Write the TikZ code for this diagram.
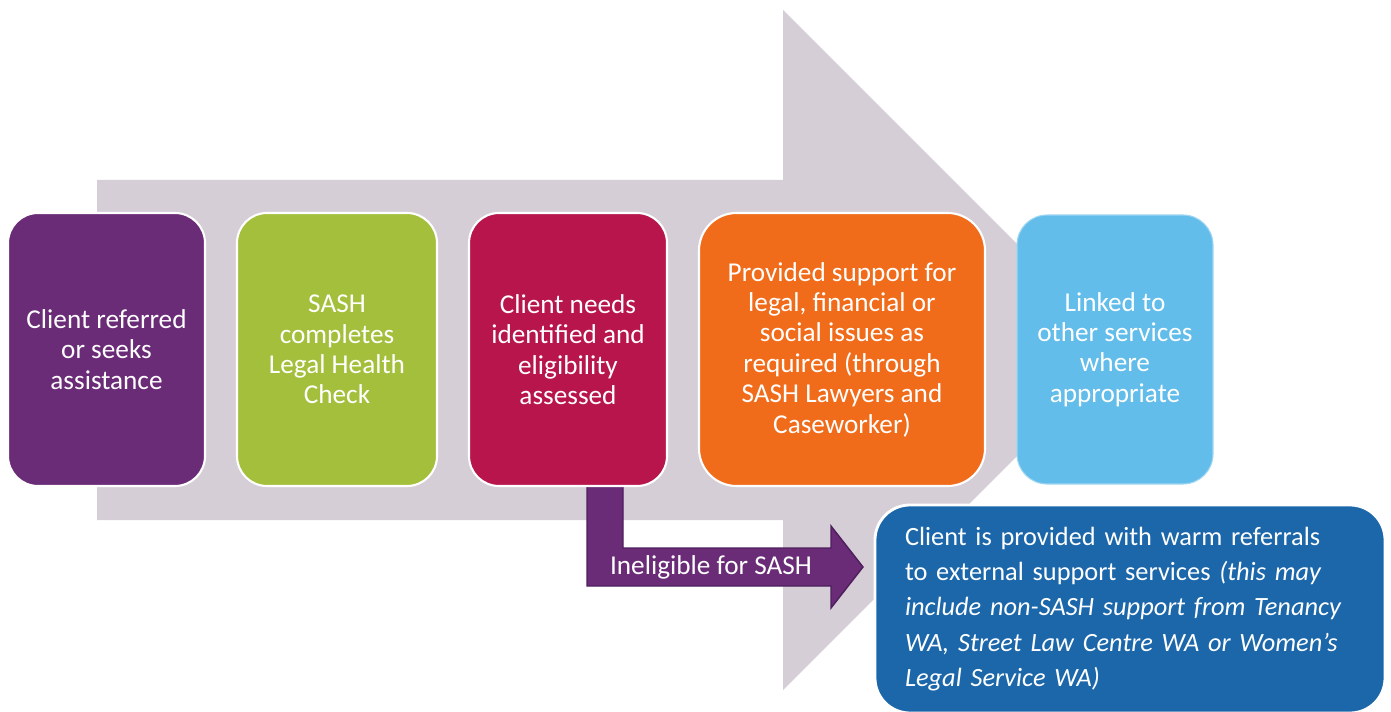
\documentclass[tikz,border=0pt]{standalone}
\usepackage{fontspec}
\setmainfont{Carlito}

\definecolor{flowgrey}{HTML}{D5CED7}
\definecolor{refpurple}{HTML}{6A2B77}
\definecolor{checkgreen}{HTML}{A3BF3B}
\definecolor{needscrimson}{HTML}{B8154D}
\definecolor{supportorange}{HTML}{F16C1A}
\definecolor{linkblue}{HTML}{62BDEA}
\definecolor{warmblue}{HTML}{1B67AA}
\definecolor{ineligedge}{HTML}{4E1F5C}

\tikzset{
  stepbox/.style={draw=white, line width=1.2pt, rounded corners=0.6cm, text=white,
    align=center, inner sep=0pt, minimum height=5.46cm,
    font=\fontsize{15.5}{17.3}\selectfont},
}

\begin{document}
\begin{tikzpicture}
\useasboundingbox (0,0) rectangle (27.82,14.22);
% big grey arrow behind the steps
\fill[flowgrey] (1.94,10.62)--(15.66,10.62)--(15.66,14.02)--(22.46,7.22)--(15.66,0.42)--(15.66,3.82)--(1.94,3.82)--cycle;
% bent arrow out of the eligibility step
\draw[fill=refpurple, draw=ineligedge, line width=0.8pt] (11.74,4.6)--(12.46,4.6)--(12.46,3.26)--(16.62,3.26)--(16.62,3.70)--(17.26,2.88)--(16.62,2.06)--(16.62,2.50)--(11.74,2.50)--cycle;
\node [text=white, font=\fontsize{15.5}{17.3}\selectfont] (inelig) at (14.22,2.88) {Ineligible for SASH};
% the five steps
\node [stepbox, fill=refpurple, minimum width=3.94cm] (referred) at (2.13,7.23) {Client referred\\or seeks\\assistance};
\node [stepbox, fill=checkgreen, minimum width=4.0cm] (healthcheck) at (6.74,7.23) {SASH\\completes\\Legal Health\\Check};
\node [stepbox, fill=needscrimson, minimum width=3.96cm] (elig) at (11.36,7.23) {Client needs\\identified and\\eligibility\\assessed};
\node [stepbox, fill=supportorange, minimum width=5.72cm, rounded corners=0.75cm] (support) at (16.84,7.23) {Provided support for\\legal, financial or\\social issues as\\required (through\\SASH Lawyers and\\Caseworker)};
\node [stepbox, fill=linkblue, draw=linkblue!60!white, line width=0.6pt, minimum width=3.92cm, minimum height=5.38cm] (linked) at (22.30,7.23) {Linked to\\other services\\where\\appropriate};
% outcome for ineligible clients
\node [stepbox, fill=warmblue, line width=1.6pt, rounded corners=0.7cm, minimum width=10.2cm, minimum height=4.16cm, text width=9.0cm, align=left, font=\fontsize{15}{20}\selectfont] (warmref) at (22.6,2.04) {Client is provided with warm referrals\\to external support services \textit{(this may}\\\textit{include non-SASH support from Tenancy}\\\textit{WA, Street Law Centre WA or Women’s}\\\textit{Legal Service WA)}};
\end{tikzpicture}
\end{document}
